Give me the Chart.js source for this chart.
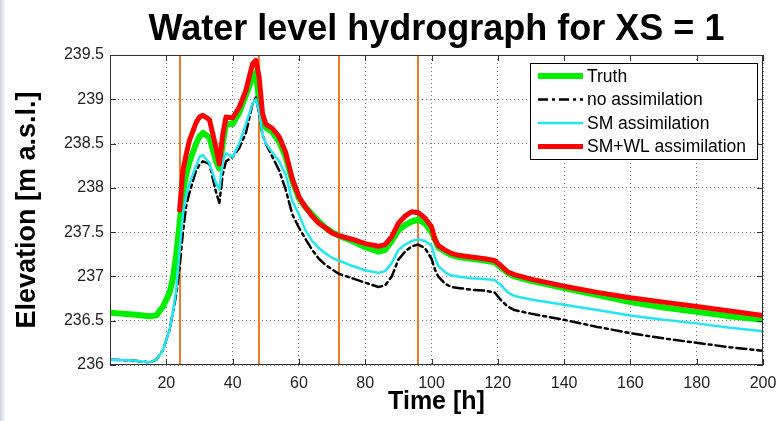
<!DOCTYPE html>
<html>
<head>
<meta charset="utf-8">
<title>Water level hydrograph</title>
<script src="https://cdn.jsdelivr.net/npm/chart.js@4.4.1/dist/chart.umd.min.js"></script>
<style>
  html, body { margin: 0; padding: 0; }
  body { width: 779px; height: 421px; background: linear-gradient(to right, #c9d2e2, #ffffff 6px); }
  canvas { display: block; }
</style>
</head>
<body>
<canvas id="hydroChart" width="779" height="421"></canvas>
<script>
// time axis [h]
const hours = [3, 10, 15, 17, 19, 21, 22, 23, 24, 25, 26, 27, 29, 30, 31, 33, 35, 36, 37, 38,
  40, 42, 44, 46, 47, 48, 49, 50, 52, 54, 56, 58, 60, 62, 64, 66, 68, 70, 72, 76,
  80, 84, 86, 88, 90, 92, 94, 96, 98, 100, 101, 102, 104, 106, 108, 112, 116, 119, 121, 123,
  125, 130, 140, 150, 160, 170, 180, 190, 200];

// elevations [m a.s.l.]
const truth = [236.59, 236.57, 236.55, 236.56, 236.66, 236.82, 236.98, 237.25, 237.6, 237.95, 238.15, 238.3, 238.5, 238.58, 238.62, 238.57, 238.3, 238.22, 238.5, 238.72,
  238.72, 238.85, 239.05, 239.25, 239.3, 238.98, 238.78, 238.68, 238.63, 238.52, 238.35, 238.08, 237.88, 237.78, 237.7, 237.62, 237.55, 237.5, 237.46, 237.4,
  237.33, 237.28, 237.3, 237.4, 237.52, 237.58, 237.62, 237.64, 237.6, 237.5, 237.42, 237.33, 237.28, 237.24, 237.22, 237.2, 237.18, 237.16, 237.1, 237.04,
  237.0, 236.95, 236.87, 236.79, 236.71, 236.65, 236.6, 236.55, 236.51];

const noAssim = [236.06, 236.05, 236.03, 236.06, 236.17, 236.4, 236.6, 236.8, 237.1, 237.5, 237.8, 237.95, 238.2, 238.26, 238.3, 238.27, 237.95, 237.83, 238.15, 238.3,
  238.35, 238.45, 238.62, 238.95, 239.02, 238.84, 238.6, 238.5, 238.35, 238.2, 237.98, 237.7, 237.55, 237.42, 237.3, 237.2, 237.13, 237.08, 237.03, 236.98,
  236.93, 236.88, 236.9, 237.0, 237.19, 237.28, 237.34, 237.36, 237.32, 237.2, 237.08, 237.0, 236.92, 236.88, 236.87, 236.85, 236.84, 236.82, 236.73, 236.66,
  236.62, 236.58, 236.51, 236.43, 236.36, 236.3, 236.25, 236.2, 236.16];

const smAssim = [236.06, 236.05, 236.03, 236.06, 236.17, 236.4, 236.6, 236.85, 237.3, 237.7, 237.92, 238.05, 238.25, 238.35, 238.37, 238.28, 238.05, 237.98, 238.3, 238.39,
  238.35, 238.5, 238.72, 238.95, 239.0, 238.86, 238.6, 238.5, 238.4, 238.3, 238.15, 237.85, 237.7, 237.52, 237.4, 237.32, 237.26, 237.21, 237.18, 237.12,
  237.07, 237.04, 237.06, 237.15, 237.3, 237.36, 237.4, 237.42, 237.4, 237.35, 237.22, 237.12, 237.05, 237.01, 237.0, 236.98, 236.97, 236.96, 236.9, 236.82,
  236.78, 236.74, 236.68, 236.62, 236.56, 236.51, 236.47, 236.42, 236.38];

// SM+WL run starts at the first assimilation time
const smWlAssim = [null, null, null, null, null, null, null, null, 237.75, 238.2, 238.38, 238.54, 238.74, 238.8, 238.82, 238.77, 238.45, 238.27, 238.6, 238.8,
  238.79, 238.91, 239.1, 239.4, 239.44, 239.25, 238.84, 238.72, 238.67, 238.58, 238.4, 238.1, 237.9, 237.78, 237.68, 237.6, 237.55, 237.49, 237.46, 237.42,
  237.37, 237.34, 237.36, 237.45, 237.6, 237.68, 237.73, 237.72, 237.66, 237.56, 237.42, 237.35, 237.3, 237.26, 237.24, 237.22, 237.2, 237.18, 237.12, 237.05,
  237.02, 236.97, 236.89, 236.82, 236.76, 236.71, 236.66, 236.61, 236.56];

// assimilation instants (vertical markers)
const assimTimes = [24, 48, 72, 96];

const xTicks = [20, 40, 60, 80, 100, 120, 140, 160, 180, 200];
const yTicks = [236, 236.5, 237, 237.5, 238, 238.5, 239, 239.5];

const FONT = '"Liberation Sans", Arial, Helvetica, sans-serif';

function pts(values) {
  return hours.map((h, i) => ({ x: h, y: values[i] }));
}

// frame, inward ticks, assimilation markers, title and in-plot legend
const decorations = {
  id: 'decorations',
  beforeDatasetsDraw(chart) {
    const { ctx, chartArea: a, scales: { x } } = chart;
    ctx.save();
    ctx.strokeStyle = '#f07a2a';
    ctx.lineWidth = 2;
    assimTimes.forEach(t => {
      const px = Math.round(x.getPixelForValue(t));
      ctx.beginPath();
      ctx.moveTo(px, a.top);
      ctx.lineTo(px, a.bottom);
      ctx.stroke();
    });
    ctx.restore();
  },
  afterDraw(chart) {
    const { ctx, chartArea: a, scales: { x, y } } = chart;
    ctx.save();

    // box
    ctx.strokeStyle = '#333';
    ctx.lineWidth = 1;
    ctx.strokeRect(a.left + 0.5, a.top + 0.5, a.right - a.left - 1, a.bottom - a.top - 1);

    // ticks pointing inwards
    ctx.beginPath();
    xTicks.forEach(v => {
      const px = Math.round(x.getPixelForValue(v)) + 0.5;
      ctx.moveTo(px, a.bottom); ctx.lineTo(px, a.bottom - 6);
      ctx.moveTo(px, a.top); ctx.lineTo(px, a.top + 6);
    });
    yTicks.forEach(v => {
      const py = Math.round(y.getPixelForValue(v)) + 0.5;
      ctx.moveTo(a.left, py); ctx.lineTo(a.left + 6, py);
      ctx.moveTo(a.right, py); ctx.lineTo(a.right - 6, py);
    });
    ctx.stroke();

    // title
    ctx.fillStyle = '#000';
    ctx.font = 'bold 36px ' + FONT;
    ctx.textAlign = 'center';
    ctx.textBaseline = 'alphabetic';
    ctx.fillText('Water level hydrograph for XS = 1', (a.left + a.right) / 2, 40);

    // legend, entries in dataset order
    const bw = 227, bh = 96;
    const bx = a.right - 6 - bw, by = a.top + 8;
    ctx.fillStyle = '#fff';
    ctx.fillRect(bx, by, bw, bh);
    ctx.strokeStyle = '#000';
    ctx.lineWidth = 1;
    ctx.strokeRect(bx + 0.5, by + 0.5, bw, bh);
    ctx.font = '17.5px ' + FONT;
    ctx.textAlign = 'left';
    ctx.textBaseline = 'middle';
    chart.data.datasets.forEach((ds, i) => {
      const ry = by + 13 + i * 23.5;
      ctx.beginPath();
      ctx.strokeStyle = ds.borderColor;
      ctx.lineWidth = ds.borderWidth;
      ctx.setLineDash(ds.borderDash || []);
      ctx.moveTo(bx + 8, ry);
      ctx.lineTo(bx + 53, ry);
      ctx.stroke();
      ctx.setLineDash([]);
      ctx.fillStyle = '#000';
      ctx.fillText(ds.label, bx + 57, ry + 1);
    });
    ctx.restore();
  }
};

const ctx = document.getElementById('hydroChart').getContext('2d');
const hydroChart = new Chart(ctx, {
  type: 'line',
  data: {
    // lower "order" is painted on top, so the last run ends up uppermost
    datasets: [
      { label: 'Truth', data: pts(truth), borderColor: '#00ee00', borderWidth: 6, order: 4 },
      { label: 'no assimilation', data: pts(noAssim), borderColor: '#000000', borderWidth: 2.5, borderDash: [10, 4, 3, 4], order: 3 },
      { label: 'SM assimilation', data: pts(smAssim), borderColor: '#22e6f2', borderWidth: 2.5, order: 2 },
      { label: 'SM+WL assimilation', data: pts(smWlAssim), borderColor: '#ff0000', borderWidth: 5, order: 1 }
    ]
  },
  options: {
    responsive: false,
    animation: false,
    devicePixelRatio: 1,
    spanGaps: false,
    elements: { point: { radius: 0 }, line: { tension: 0, borderJoinStyle: 'round', borderCapStyle: 'round' } },
    layout: { padding: { top: 55, right: 16, bottom: 0, left: 0 } },
    plugins: {
      legend: { display: false },
      title: { display: false },
      tooltip: { enabled: false }
    },
    scales: {
      x: {
        type: 'linear',
        min: 3,
        max: 200,
        afterBuildTicks: s => { s.ticks = xTicks.map(v => ({ value: v })); },
        afterFit: s => { s.height = 56; s.paddingLeft = 0; s.paddingRight = 0; },
        grid: { color: '#777', drawTicks: false },
        border: { display: false, dash: [1, 3] },
        ticks: { color: '#222', font: { family: FONT, size: 16 }, padding: 9, maxRotation: 0, callback: v => String(v) },
        title: { display: true, text: 'Time [h]', color: '#000', font: { family: FONT, size: 25, weight: 'bold' }, padding: { top: 0, bottom: 4 } }
      },
      y: {
        min: 236,
        max: 239.5,
        afterBuildTicks: s => { s.ticks = yTicks.map(v => ({ value: v })); },
        afterFit: s => { s.width = 110; s.paddingTop = 0; s.paddingBottom = 0; },
        grid: { color: '#777', drawTicks: false },
        border: { display: false, dash: [1, 3] },
        ticks: { color: '#222', font: { family: FONT, size: 16 }, padding: 6, callback: v => String(v) },
        title: { display: true, text: 'Elevation [m a.s.l.]', color: '#000', font: { family: FONT, size: 27, weight: 'bold' }, padding: { top: 11, bottom: 0 } }
      }
    }
  },
  plugins: [decorations]
});
</script>
</body>
</html>
